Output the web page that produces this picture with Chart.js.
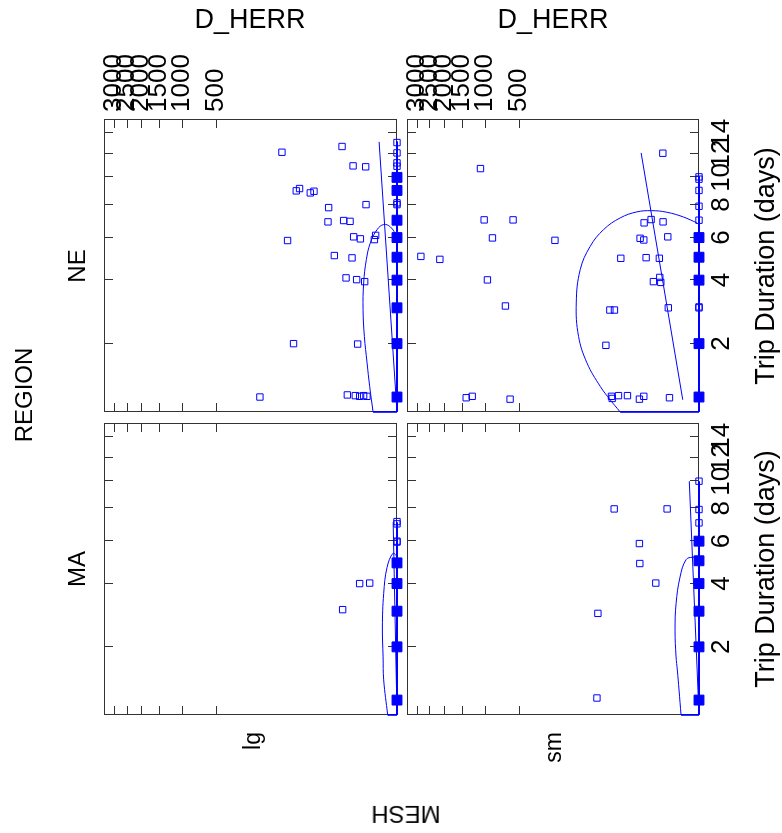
<!DOCTYPE html>
<html>
<head>
<meta charset="utf-8">
<title>D_HERR by Trip Duration</title>
<script src="https://cdn.jsdelivr.net/npm/chart.js@4.4.1/dist/chart.umd.min.js"></script>
<style>
  html, body { margin: 0; padding: 0; background: #fff; overflow: hidden; }
  /* the figure is laid out unrotated (833 x 782), then turned a quarter turn */
  #sheet {
    position: absolute; left: 0; top: 0; width: 833px; height: 782px;
    transform-origin: 0 0; transform: translate(0, 833px) rotate(-90deg);
  }
  #sheet canvas { position: absolute; left: 0; top: 0; }
  .lab {
    position: absolute; white-space: nowrap; line-height: 1; color: #000;
    font-family: "Liberation Sans", Arial, sans-serif;
  }
</style>
</head>
<body>
<div id="sheet">
  <canvas id="ma-lg" width="833" height="782"></canvas>
  <canvas id="ne-lg" width="833" height="782"></canvas>
  <canvas id="ma-sm" width="833" height="782"></canvas>
  <canvas id="ne-sm" width="833" height="782"></canvas>

  <div class="lab" style="left:438px; top:24px; font-size:24px; transform:translate(-50%,-50%)">REGION</div>
  <div class="lab" style="left:264px; top:77px; font-size:24px; transform:translate(-50%,-50%)">MA</div>
  <div class="lab" style="left:567px; top:77px; font-size:24px; transform:translate(-50%,-50%)">NE</div>
  <div class="lab" style="left:101px; top:252px; font-size:23px; transform:translate(-100%,-50%)">lg</div>
  <div class="lab" style="left:101px; top:553px; font-size:23px; transform:translate(-100%,-50%)">sm</div>
  <div class="lab" style="left:19px; top:406px; font-size:24px; transform:translate(-50%,-50%) rotate(-90deg)">MESH</div>
  <div class="lab" style="left:813px; top:250px; font-size:27px; transform:translate(-50%,-50%) rotate(90deg)">D_HERR</div>
  <div class="lab" style="left:813px; top:553px; font-size:27px; transform:translate(-50%,-50%) rotate(90deg)">D_HERR</div>
  <div class="lab" style="left:264px; top:765px; font-size:27px; transform:translate(-50%,-50%)">Trip Duration (days)</div>
  <div class="lab" style="left:567px; top:765px; font-size:27px; transform:translate(-50%,-50%)">Trip Duration (days)</div>
</div>

<script>
// ---- Data ----
// pairs are [trip duration in days, D_HERR]; both axes use a fourth-root scale
const durTicks = [2, 4, 6, 8, 10, 12, 14];
const herrTicks = [500, 1000, 1500, 2000, 2500, 3000];
const durMin = 0.804, durMax = 15.53;
const herrMin = 0, herrMax = 3443;

// NE / lg
const neLgPts = [
  [12.7, 4.26], [12.16, 81.9], [10.95, 1.74], [10.87, 0.45], [8.97, 48.1],
  [9.14, 42.1], [8.82, 26.4], [8.94, 22.2], [7.8, 10.2], [8.0, 0.43],
  [6.9, 10.6], [6.98, 3.79], [6.93, 2.27], [5.84, 67.0], [6.04, 1.65],
  [5.93, 0.84], [6.12, 0.097], [5.89, 0.122], [5.08, 7.2], [4.97, 1.91],
  [4.09, 3.15], [4.02, 1.24], [3.94, 0.51], [2.0, 53.5], [1.99, 1.12],
  [1.0, 165], [1.03, 2.84], [1.02, 1.41], [1.01, 0.91], [1.02, 0.58], [1.01, 0.38]
];
const neLgZeroOpen = [13.08, 12.1, 11.21, 10.92, 8.12, 8.0];
const neLgZeroDense = [10, 9, 7, 6, 5, 4, 3, 2, 1];
const neLgFit = [[13.15, 0.048], [0.805, 0]];
const neLgMedian = [[0.805, 0], [13.2, 0]];
const neLgEllipse = [
  [6.07, 0], [6.6, 0.00089], [6.74, 0.0147], [6.44, 0.0737], [5.72, 0.235],
  [4.89, 0.412], [3.89, 0.577], [2.94, 0.62], [2.18, 0.53], [1.58, 0.375],
  [1.16, 0.261], [0.805, 0.153], [0.805, 0]
];

// NE / sm
const neSmPts = [
  [12.07, 0.81], [10.72, 1080], [7.02, 1009], [7.02, 566], [5.98, 862],
  [5.85, 204], [5.04, 2834], [4.9, 2136], [4.01, 949], [3.06, 665],
  [7.04, 2.49], [6.84, 4.3], [6.9, 0.79], [5.96, 5.7], [5.87, 4.4],
  [6.04, 0.45], [4.95, 17.7], [4.98, 3.7], [4.95, 1.17], [4.11, 1.12],
  [3.94, 2.05], [3.91, 1.01], [3.0, 0.42], [2.93, 29.9], [2.93, 24.2],
  [1.96, 35.6], [0.99, 1391], [1.01, 1253], [0.97, 603], [1.01, 27.8],
  [0.98, 26.9], [1.02, 19.9], [1.02, 12.4], [0.97, 5.97], [1.01, 4.4], [0.99, 0.36]
];
const neSmZeroOpen = [10.04, 9.86, 9.0, 7.89, 7.0, 3.03, 3.0];
const neSmZeroDense = [6, 5, 4, 2, 1];
const neSmFit = [[12.1, 5.31], [0.962, 0.033]];
const neSmMedian = [[0.805, 0], [10.1, 0]];
const neSmEllipse = [
  [6.84, 0.00001], [7.2, 0.0285], [7.5, 0.511], [7.6, 2.35], [7.52, 7.08],
  [7.14, 18.3], [6.44, 39.4], [5.54, 66.3], [4.44, 94.2], [3.16, 107.5],
  [2.18, 99.7], [1.58, 74.7], [1.16, 45.1], [0.962, 29.5], [0.805, 18.3], [0.805, 0]
];

// MA / lg
const maLgPts = [[4.0, 0.91], [4.02, 0.26], [3.05, 4.08]];
const maLgZeroOpen = [7.0, 7.14, 6.0, 5.95];
const maLgZeroDense = [4.9, 4, 3, 2, 1];
const maLgFit = [[7.1, 0.0001], [0.805, 0]];
const maLgMedian = [[0.805, 0], [7.1, 0]];
const maLgEllipse = [
  [5.21, 0], [5.37, 0.000109], [4.7, 0.00451], [3.61, 0.0147], [2.52, 0.0213],
  [1.77, 0.0175], [1.32, 0.0147], [0.805, 0.00351], [0.805, 0]
];

// MA / sm
const maSmPts = [
  [7.96, 24.5], [7.96, 0.49], [5.87, 5.97], [4.87, 5.81], [4.02, 1.65],
  [2.93, 49.5], [1.03, 51.4]
];
const maSmZeroOpen = [10.0, 7.92, 7.06];
const maSmZeroDense = [6, 5, 4, 3, 2, 1];
const maSmFit = [[10.0, 0.0042], [0.805, 0]];
const maSmMedian = [[0.805, 0], [10.0, 0]];
const maSmEllipse = [
  [5.11, 0], [5.17, 0.00074], [5.05, 0.0134], [4.27, 0.0612], [3.25, 0.131],
  [2.43, 0.156], [1.77, 0.131], [1.5, 0.104], [1.15, 0.0752], [0.805, 0.0493], [0.805, 0]
];

// ---- Fourth-root scale ----
const root = v => Math.sign(v) * Math.pow(Math.abs(v), 0.25);

class RootScale extends Chart.LinearScale {
  static id = 'root4';
  static defaults = Chart.LinearScale.defaults;
  configure() {
    super.configure();
    this._startValue = root(this.min);
    this._valueRange = root(this.max) - root(this.min);
  }
  getPixelForValue(value) {
    if (value === null || value === undefined || isNaN(value)) return NaN;
    return this.getPixelForDecimal((root(value) - this._startValue) / this._valueRange);
  }
  getValueForPixel(pixel) {
    const r = this._startValue + this.getDecimalForPixel(pixel) * this._valueRange;
    return Math.sign(r) * Math.pow(r, 4);
  }
}
Chart.register(RootScale);

Chart.defaults.font.family = '"Liberation Sans", Arial, sans-serif';
Chart.defaults.color = '#000';

// ---- Panel frame with inward ticks on all four sides ----
const TICK = 9;
const panelFrame = {
  id: 'panelFrame',
  beforeDatasetsDraw(chart) {
    const { ctx, chartArea: a, scales: { x, y } } = chart;
    ctx.save();
    ctx.strokeStyle = '#333';
    ctx.lineWidth = 1;
    ctx.beginPath();
    x.ticks.forEach(t => {
      const px = Math.round(x.getPixelForValue(t.value)) + 0.5;
      ctx.moveTo(px, a.top); ctx.lineTo(px, a.top + TICK);
      ctx.moveTo(px, a.bottom); ctx.lineTo(px, a.bottom - TICK);
    });
    y.ticks.forEach(t => {
      const py = Math.round(y.getPixelForValue(t.value)) + 0.5;
      ctx.moveTo(a.left, py); ctx.lineTo(a.left + TICK, py);
      ctx.moveTo(a.right, py); ctx.lineTo(a.right - TICK, py);
    });
    ctx.stroke();
    ctx.strokeRect(a.left + 0.5, a.top + 0.5, a.right - a.left - 1, a.bottom - a.top - 1);
    ctx.restore();
  }
};

// ---- Datasets ----
const BLUE = '#0000ff';
const toXY = pairs => pairs.map(([d, v]) => ({ x: d, y: v }));
const onZero = durs => durs.map(d => ({ x: d, y: 0 }));

const openSq = { pointStyle: 'rect', pointRadius: 4.5, borderColor: BLUE, borderWidth: 1,
                 backgroundColor: 'rgba(0,0,0,0)', clip: false };
const denseSq = { pointStyle: 'rect', pointRadius: 7, borderColor: BLUE, borderWidth: 1,
                  backgroundColor: BLUE, clip: false };
const line = w => ({ showLine: true, pointRadius: 0, borderColor: BLUE, borderWidth: w,
                     backgroundColor: BLUE, fill: false, clip: false });

function panelSets(pts, zeroOpen, zeroDense, fit, median, ellipse) {
  const curve = ellipse.slice(0, -1);
  const edge = ellipse.slice(-2);   // part of the ellipse cut off along the frame
  return [
    { data: toXY(fit), ...line(1) },
    { data: toXY(median), ...line(2) },
    { data: toXY(curve), ...line(1), tension: 0.4 },
    { data: toXY(edge), ...line(1) },
    { data: toXY(pts), ...openSq },
    { data: onZero(zeroOpen), ...openSq },
    { data: onZero(zeroDense), ...denseSq }
  ];
}

// durBox / herrBox: room kept for the tick labels (0 = no labels on that panel)
function makePanel(id, pad, durBox, herrBox, datasets) {
  return new Chart(document.getElementById(id), {
    type: 'scatter',
    data: { datasets },
    options: {
      responsive: false,
      animation: false,
      events: [],
      layout: { padding: pad },
      plugins: { legend: { display: false }, tooltip: { enabled: false } },
      scales: {
        x: {
          type: 'root4', position: 'bottom', min: durMin, max: durMax, bounds: 'data',
          grid: { display: false, drawTicks: false }, border: { display: false },
          ticks: { display: durBox > 0, autoSkip: false, maxRotation: 0, padding: 7,
                   font: { size: 26 }, callback: v => String(v) },
          afterBuildTicks: s => { s.ticks = durTicks.map(v => ({ value: v })); },
          afterFit: s => { s.height = durBox; }
        },
        y: {
          type: 'root4', position: 'right', min: herrMin, max: herrMax, bounds: 'data',
          grid: { display: false, drawTicks: false }, border: { display: false },
          ticks: { display: herrBox > 0, autoSkip: false, padding: 7,
                   font: { size: 26 }, callback: v => String(v) },
          afterBuildTicks: s => { s.ticks = herrTicks.map(v => ({ value: v })); },
          afterFit: s => { s.width = herrBox; }
        }
      }
    },
    plugins: [panelFrame]
  });
}

// columns: MA x 118-410, NE x 421-714; rows: lg y 104-397, sm y 407-699
makePanel('ma-lg', { left: 118, top: 104, right: 423, bottom: 385 }, 0, 0,
  panelSets(maLgPts, maLgZeroOpen, maLgZeroDense, maLgFit, maLgMedian, maLgEllipse));
makePanel('ne-lg', { left: 421, top: 104, right: 0, bottom: 385 }, 0, 119,
  panelSets(neLgPts, neLgZeroOpen, neLgZeroDense, neLgFit, neLgMedian, neLgEllipse));
makePanel('ma-sm', { left: 118, top: 407, right: 423, bottom: 0 }, 83, 0,
  panelSets(maSmPts, maSmZeroOpen, maSmZeroDense, maSmFit, maSmMedian, maSmEllipse));
makePanel('ne-sm', { left: 421, top: 407, right: 0, bottom: 0 }, 83, 119,
  panelSets(neSmPts, neSmZeroOpen, neSmZeroDense, neSmFit, neSmMedian, neSmEllipse));
</script>
</body>
</html>
